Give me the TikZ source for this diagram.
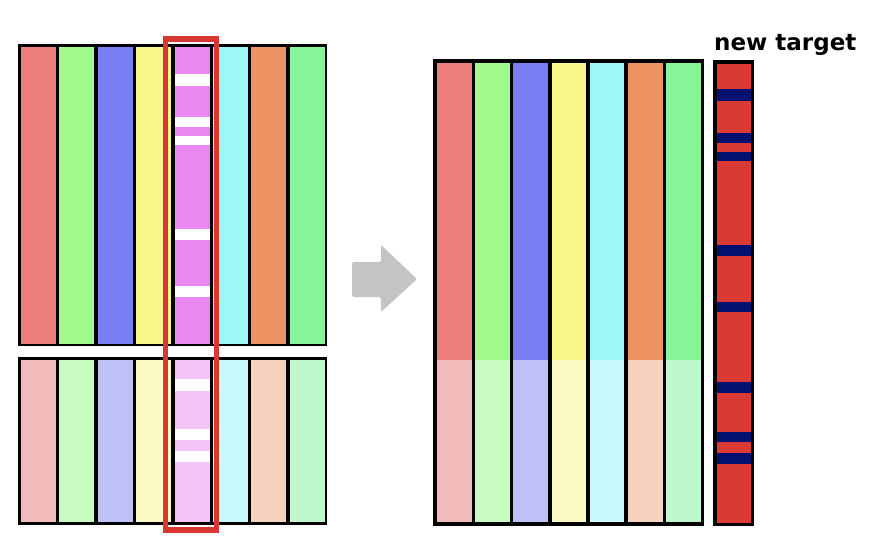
\documentclass[tikz,border=0pt]{standalone}
\usepackage{fontspec}
\setmainfont{DejaVu Sans}
\definecolor{cA}{HTML}{EC7F7C}
\definecolor{cB}{HTML}{A0FA8A}
\definecolor{cC}{HTML}{797EF2}
\definecolor{cD}{HTML}{F9F78A}
\definecolor{cE}{HTML}{EA88F2}
\definecolor{cF}{HTML}{9EF7F7}
\definecolor{cG}{HTML}{ED9361}
\definecolor{cH}{HTML}{87F597}
\definecolor{lA}{HTML}{F3BBBB}
\definecolor{lB}{HTML}{C8FBBF}
\definecolor{lC}{HTML}{BEC0F8}
\definecolor{lD}{HTML}{FCFBC4}
\definecolor{lE}{HTML}{F2C4F8}
\definecolor{lF}{HTML}{C9FAFB}
\definecolor{lG}{HTML}{F6D3BE}
\definecolor{lH}{HTML}{C0F8CE}
\definecolor{tred}{HTML}{DA3A33}
\definecolor{tnavy}{HTML}{00116F}
\definecolor{hired}{HTML}{D93832}
\definecolor{arrgray}{HTML}{C4C4C4}
\begin{document}
\begin{tikzpicture}[x=1pt,y=-1pt,
  frame/.style={fill=black},
  stripe/.style={fill=white},
  tstripe/.style={fill=tnavy}]
\useasboundingbox (0,0) rectangle (878,554);
% ---- left top block
\fill[frame] (18,44) rectangle (327,346);
\foreach \c [count=\i from 0] in {cA,cB,cC,cD,cE,cF,cG,cH}
  \fill[\c] ({21+38.4*\i},47) rectangle ({56+38.4*\i},343.5);
\foreach \a/\b in {74/86,117/127,136/145,229/240,286/297}
  \fill[stripe] (174.6,\a) rectangle (209.6,\b);
% ---- left bottom block
\fill[frame] (18,357) rectangle (327,525);
\foreach \c [count=\i from 0] in {lA,lB,lC,lD,lE,lF,lG,lH}
  \fill[\c] ({21+38.4*\i},360) rectangle ({56+38.4*\i},522);
\foreach \a/\b in {379/391,429/440,451/462}
  \fill[stripe] (174.6,\a) rectangle (209.6,\b);
% ---- highlight
\draw[hired,line width=5.5pt] (165.5,39) rectangle (216.5,530);
% ---- arrow
\fill[arrgray,rounded corners=1.5pt] (352,262) -- (381,262) -- (381,245) -- (417,279)
  -- (381,312) -- (381,297) -- (352,297) -- cycle;
% ---- right block
\fill[frame] (433,59) rectangle (704,525.5);
\foreach \c/\l [count=\i from 0] in {cA/lA,cB/lB,cC/lC,cD/lD,cF/lF,cG/lG,cH/lH}{
  \fill[\c] ({437+38.2*\i},63) rectangle ({471.5+38.2*\i},360);
  \fill[\l] ({437+38.2*\i},360) rectangle ({471.5+38.2*\i},522);
}
% ---- new target column
\fill[frame] (713,60) rectangle (754,526);
\fill[tred] (716.5,63.5) rectangle (750.5,522.5);
\foreach \a/\b in {89/101,133/143,152/161,245/256,302/312,382/393,432/442,453/464}
  \fill[tstripe] (716.5,\a) rectangle (750.5,\b);
\node[anchor=base west,inner sep=0pt,font=\fontsize{23}{26}\selectfont\bfseries] (lbl) at (714,50.5) {new target};
\end{tikzpicture}
\end{document}
